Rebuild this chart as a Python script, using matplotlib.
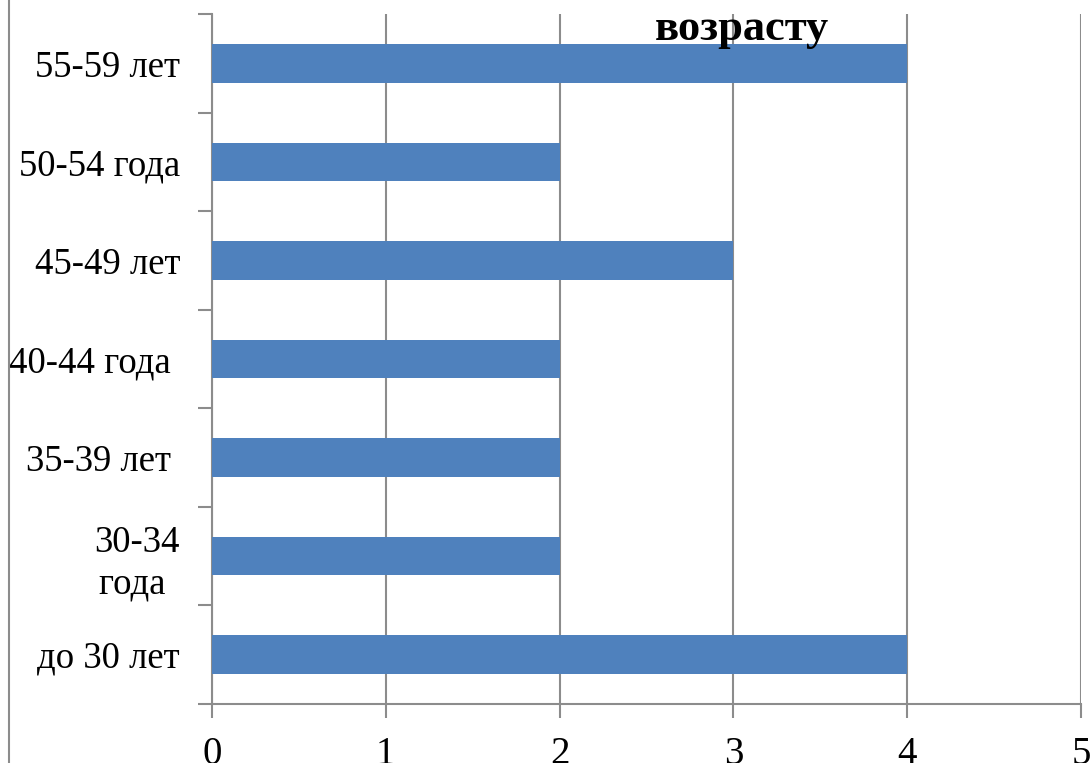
import matplotlib
matplotlib.use("Agg")
import matplotlib.pyplot as plt
from matplotlib.lines import Line2D

# data, bottom to top
categories = ["до 30 лет", "30-34\nгода ", "35-39 лет ", "40-44 года ", "45-49 лет", "50-54 года", "55-59 лет"]
values = [4, 2, 2, 2, 3, 2, 4]
xticks = [0, 1, 2, 3, 4, 5]
title = "возрасту"

plt.rcParams["font.family"] = ["Liberation Serif", "DejaVu Serif"]

fig = plt.figure(figsize=(10.91, 7.63), dpi=100)
ax = fig.add_axes([212/1091, 59/763, (1081-212)/1091, (704-14)/763])

ypos = list(range(len(categories)))
ax.barh(ypos, values, height=0.39, color="#4F81BD", zorder=3)

ax.set_xlim(0, 5)
ax.set_ylim(-0.5, len(categories) - 0.5)
ax.set_xticks(xticks)
ax.set_xticklabels([str(t) for t in xticks], fontsize=28)
ax.set_yticks(ypos)
ax.set_yticklabels(categories, fontsize=26.5, multialignment="center", linespacing=1.25)
ax.set_yticks([y - 0.5 for y in ypos] + [len(categories) - 0.5], minor=True)

gray = "#8c8c8c"
ax.xaxis.grid(True, color=gray, linewidth=1.5, zorder=0)
ax.tick_params(axis="y", which="major", length=0, pad=23)
ax.tick_params(axis="y", which="minor", length=10, width=1.5, color=gray)
ax.tick_params(axis="x", length=10, width=1.5, color=gray, pad=13)

for s in ["top", "right"]:
    ax.spines[s].set_visible(False)
for s in ["left", "bottom"]:
    ax.spines[s].set_color(gray)
    ax.spines[s].set_linewidth(1.5)

fig.text(742/1091, 1 - 40/763, title, fontsize=32, fontweight="bold", ha="center", va="baseline")

# chart frame edge on the left
fig.add_artist(Line2D([9/1091, 9/1091], [0, 1], color=gray, linewidth=1.5, transform=fig.transFigure))

fig.savefig("out.png", dpi=100)
